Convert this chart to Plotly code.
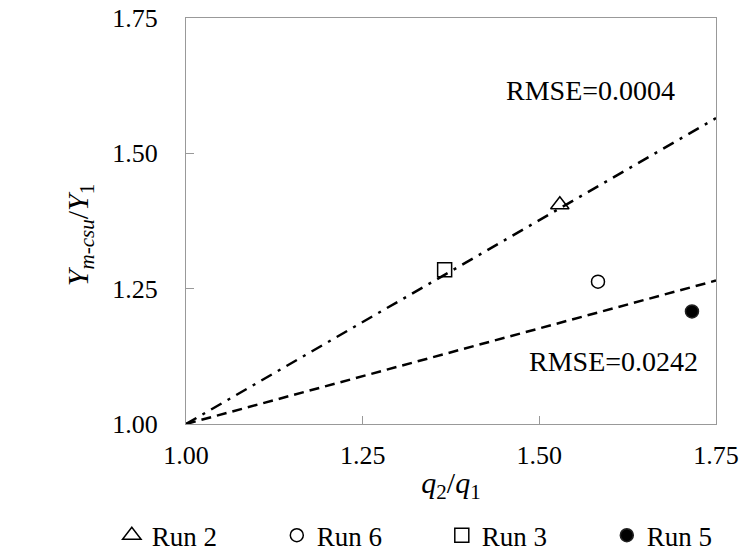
import plotly.graph_objects as go

# Data
runs = ["Run 2", "Run 6", "Run 3", "Run 5"]
x_vals = [1.529, 1.583, 1.366, 1.716]
y_vals = [1.405, 1.263, 1.285, 1.208]
symbols = ["triangle-up-open", "circle-open", "square-open", "circle"]
sizes = [16, 13, 14, 13]

fit_x = [1.0, 1.75]
fit_rmse_small = [1.0, 1.565]   # RMSE=0.0004 (dash-dot)
fit_rmse_large = [1.0, 1.265]   # RMSE=0.0242 (dashed)

tick_vals = [1.00, 1.25, 1.50, 1.75]
tick_text = ["1.00", "1.25", "1.50", "1.75"]

FONT = "Liberation Serif"

fig = go.Figure()

fig.add_trace(go.Scatter(x=fit_x, y=fit_rmse_small, mode="lines",
                         line=dict(color="black", width=2.5, dash="12px,7px,3px,7px"),
                         showlegend=False, hoverinfo="skip"))
fig.add_trace(go.Scatter(x=fit_x, y=fit_rmse_large, mode="lines",
                         line=dict(color="black", width=2.5, dash="10px,6px"),
                         showlegend=False, hoverinfo="skip"))

for name, xv, yv, sym, sz in zip(runs, x_vals, y_vals, symbols, sizes):
    fig.add_trace(go.Scatter(x=[xv], y=[yv], mode="markers", name=name,
                             marker=dict(symbol=sym, size=sz, color="black",
                                         line=dict(color="#222", width=1.5))))

fig.add_annotation(x=1.573, y=1.617, text="RMSE=0.0004", showarrow=False,
                   font=dict(family=FONT, size=28, color="black"))
fig.add_annotation(x=1.605, y=1.116, text="RMSE=0.0242", showarrow=False,
                   font=dict(family=FONT, size=28, color="black"))

# y-axis title placed as a rotated annotation (slightly below plot centre, as in the reference)
fig.add_annotation(xref="paper", yref="paper", x=-0.2, y=0.465, textangle=-90,
                   text="<i>Y</i><sub><i>m-csu</i></sub>/<i>Y</i><sub>1</sub>",
                   showarrow=False, xanchor="center", yanchor="middle",
                   font=dict(family=FONT, size=30, color="black"))

axis_common = dict(showline=True, mirror=True, linecolor="#999", linewidth=1.2,
                   ticks="inside", ticklen=8, tickcolor="#999",
                   showgrid=False, zeroline=False,
                   tickvals=tick_vals, ticktext=tick_text,
                   tickfont=dict(family=FONT, size=26, color="black"))

fig.update_xaxes(range=[1.0, 1.75], ticklabelstandoff=8,
                 title=dict(text="<i>q</i><sub>2</sub>/<i>q</i><sub>1</sub>",
                            font=dict(family=FONT, size=30, color="black"), standoff=2),
                 **axis_common)
fig.update_yaxes(range=[1.0, 1.75], ticklabelstandoff=22, **axis_common)

fig.update_layout(
    width=740, height=552,
    margin=dict(l=186, r=24, t=18, b=128, autoexpand=False),
    plot_bgcolor="white", paper_bgcolor="white",
    legend=dict(orientation="h", x=-0.14, xanchor="left", y=-0.275, yanchor="middle",
                entrywidth=120, entrywidthmode="pixels", tracegroupgap=0,
                font=dict(family=FONT, size=27, color="black"),
                itemsizing="trace"),
)

fig.write_html("out.html")
